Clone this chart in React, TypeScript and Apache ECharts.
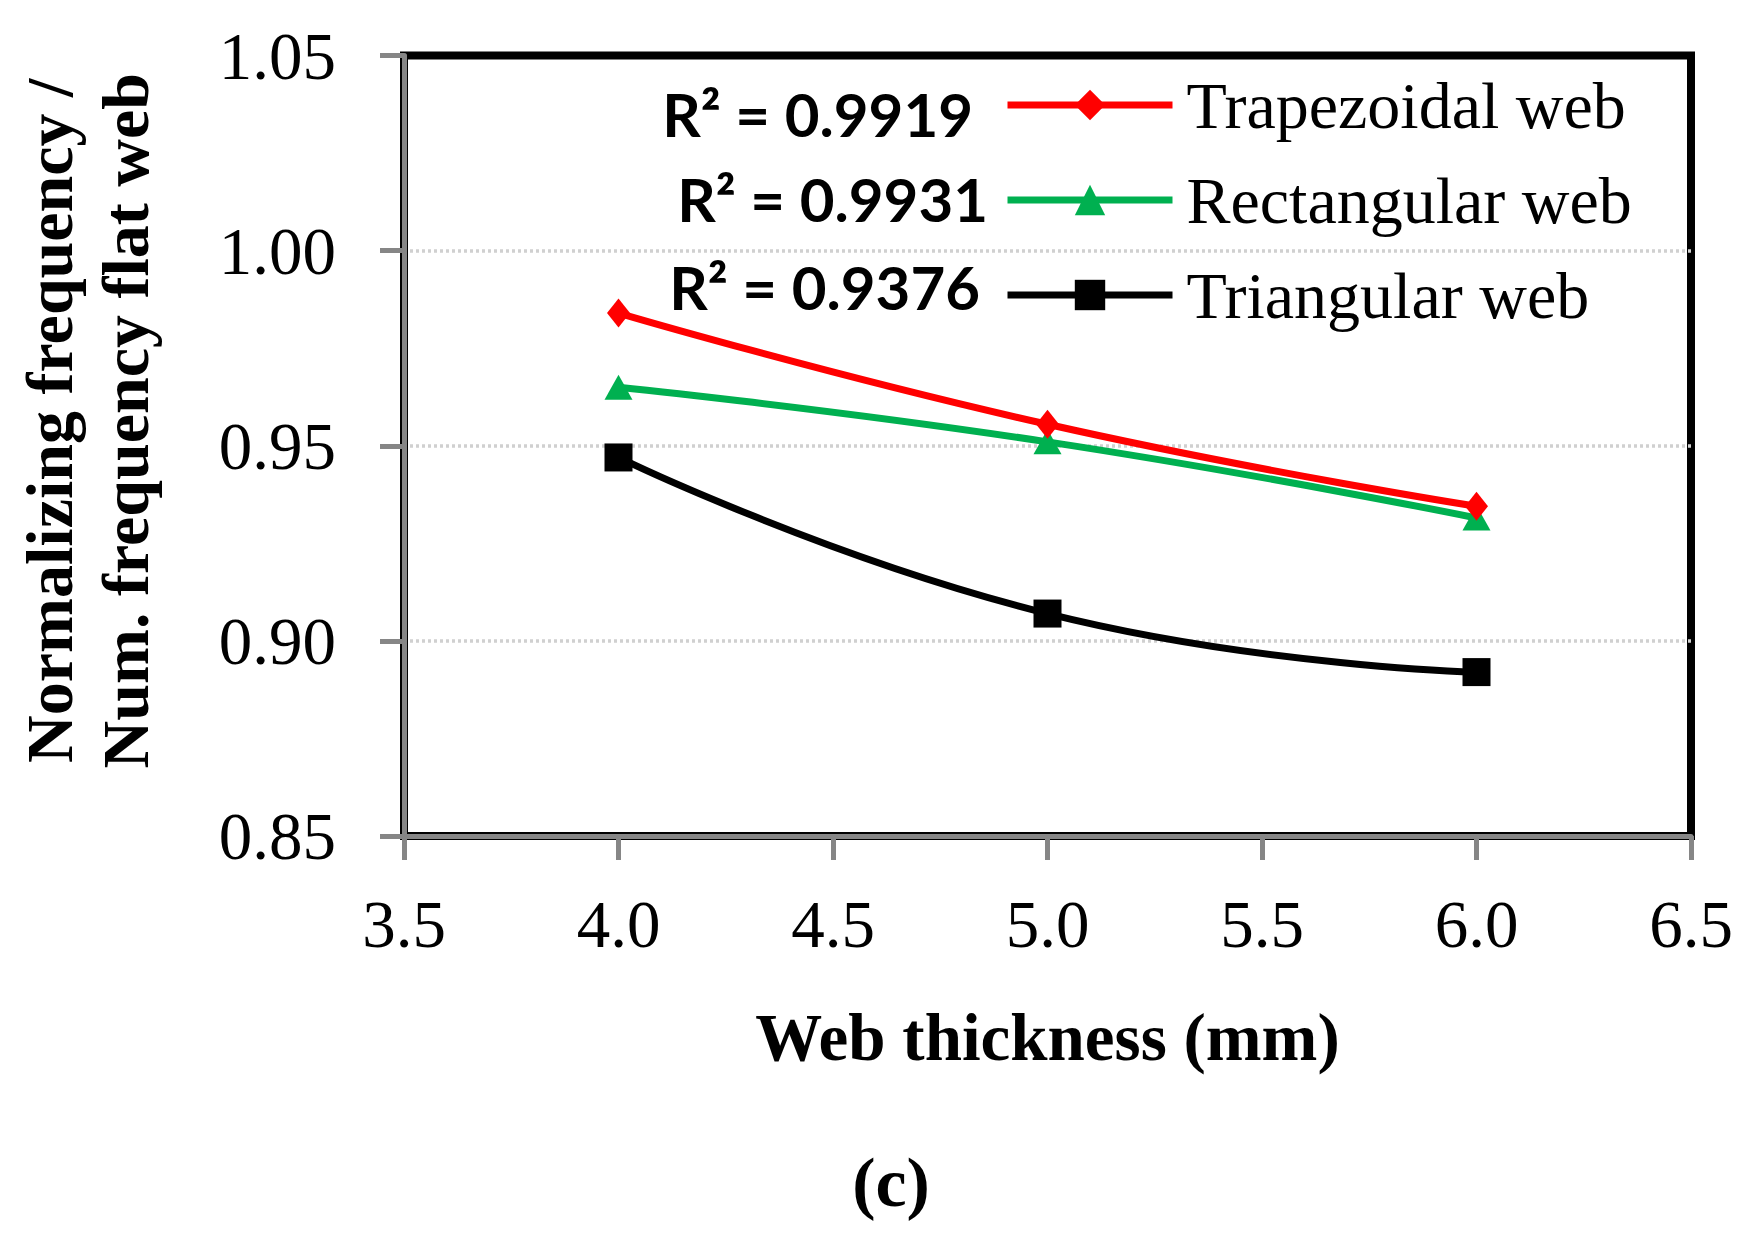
import { useEffect, useRef } from 'react';
import * as echarts from 'echarts';

// web thickness (mm)
const thickness = [4.0, 5.0, 6.0];

// normalized frequency per web shape
const trapezoidal = [0.984, 0.9555, 0.9345];
const rectangular = [0.965, 0.951, 0.9315];
const triangular = [0.947, 0.907, 0.892];

const seriesNames = ['Trapezoidal web', 'Rectangular web', 'Triangular web'];
const seriesColors = ['#ff0000', '#00b050', '#000000'];
const seriesSymbols = ['diamond', 'triangle', 'rect'];
const rSquared = ['0.9919', '0.9931', '0.9376'];

const SERIF = '"Liberation Serif", "Times New Roman", serif';

export default function App() {
  const chartRef = useRef<HTMLDivElement>(null);

  useEffect(() => {
    if (!chartRef.current) return;

    const chart = echarts.init(chartRef.current, null, { renderer: 'svg' });

    const values = [trapezoidal, rectangular, triangular];
    const symbolSizes: (number | number[])[] = [[23, 29], [28, 25], 28];

    // R² labels sit left of each legend row
    const r2Pos = [
      { x: 973, y: 114 },
      { x: 988, y: 199 },
      { x: 980, y: 287 },
    ];

    const option = {
      animation: false,
      backgroundColor: '#ffffff',
      grid: {
        left: 404,
        top: 55.5,
        right: 61,
        bottom: 408,
        show: true,
        borderColor: '#000',
        borderWidth: 8,
        containLabel: false,
        outerBoundsMode: 'none',
      },
      legend: {
        orient: 'vertical',
        left: 1004,
        top: 72,
        itemGap: 29,
        itemWidth: 165,
        itemHeight: 38,
        padding: 0,
        selectedMode: false,
        data: seriesNames,
        lineStyle: { width: 7 },
        textStyle: {
          fontFamily: SERIF,
          fontSize: 66,
          color: '#000',
          lineHeight: 66,
          padding: [0, 0, 0, 9],
        },
      },
      xAxis: {
        type: 'value',
        min: 3.5,
        max: 6.5,
        interval: 0.5,
        name: 'Web thickness (mm)',
        nameLocation: 'middle',
        nameGap: 167,
        nameTextStyle: {
          fontFamily: SERIF,
          fontSize: 67,
          fontWeight: 'bold',
          color: '#000',
        },
        axisLine: { show: true, onZero: false, lineStyle: { color: '#868686', width: 5 } },
        axisTick: { show: true, length: 24, lineStyle: { color: '#868686', width: 5 } },
        axisLabel: {
          margin: 54,
          fontFamily: SERIF,
          fontSize: 67,
          color: '#000',
          formatter: (v: number) => v.toFixed(1),
        },
        splitLine: { show: false },
      },
      yAxis: {
        type: 'value',
        min: 0.85,
        max: 1.05,
        interval: 0.05,
        name: 'Normalizing frequency /\nNum. frequency flat web',
        nameLocation: 'middle',
        nameRotate: 90,
        nameGap: 241,
        nameTextStyle: {
          fontFamily: SERIF,
          fontSize: 66,
          fontWeight: 'bold',
          color: '#000',
          lineHeight: 76,
          padding: [0, 0, 0, 50],
        },
        axisLine: { show: true, lineStyle: { color: '#868686', width: 5 } },
        axisTick: { show: true, length: 24, lineStyle: { color: '#868686', width: 5 } },
        axisLabel: {
          margin: 68,
          fontFamily: SERIF,
          fontSize: 67,
          color: '#000',
          formatter: (v: number) => v.toFixed(2),
        },
        splitLine: {
          show: true,
          showMinLine: false,
          showMaxLine: false,
          lineStyle: { color: '#d0d0d0', width: 3.5, type: [3, 3] },
        },
      },
      graphic: [
        ...rSquared.map((r, i) => ({
          type: 'text',
          x: r2Pos[i].x,
          y: r2Pos[i].y,
          style: {
            text: `R² = ${r}`,
            font: 'bold 60px Lato, "Liberation Sans", sans-serif',
            fill: '#000',
            textAlign: 'right',
            textVerticalAlign: 'middle',
          },
        })),
        {
          type: 'text',
          x: 891,
          y: 1182,
          style: {
            text: '(c)',
            font: `bold 70px ${SERIF}`,
            fill: '#000',
            textAlign: 'center',
            textVerticalAlign: 'middle',
          },
        },
      ],
      series: seriesNames.map((name, i) => ({
        name,
        type: 'line',
        data: thickness.map((t, j) => [t, values[i][j]]),
        smooth: 0.5,
        symbol: seriesSymbols[i],
        symbolSize: symbolSizes[i],
        itemStyle: { color: seriesColors[i] },
        lineStyle: { color: seriesColors[i], width: 7 },
        z: 5 - i,
      })),
    };

    chart.setOption(option);

    return () => {
      chart.dispose();
    };
  }, []);

  return (
    <div
      ref={chartRef}
      style={{ position: 'fixed', left: 0, top: 0, width: 1752, height: 1244, background: '#fff' }}
    />
  );
}
